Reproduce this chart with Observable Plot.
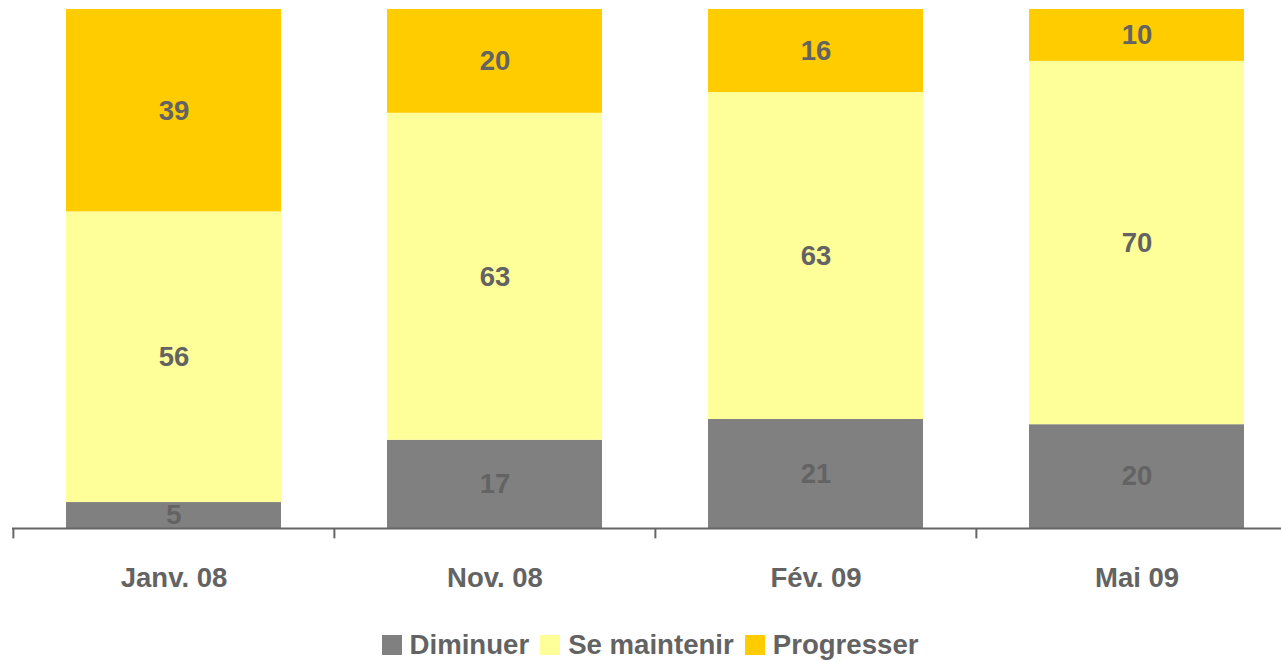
<!DOCTYPE html>
<html><head><meta charset="utf-8">
<script src="https://cdn.jsdelivr.net/npm/d3@7"></script>
<script src="https://cdn.jsdelivr.net/npm/@observablehq/plot@0.6"></script>
<style>
body{margin:0;background:#fff;font-family:"Liberation Sans",Arial,sans-serif;}
#chart svg{display:block;}
.legend{height:60px;display:flex;align-items:center;justify-content:center;padding-left:30px;box-sizing:border-box;width:1281px;font-weight:bold;font-size:27.6px;color:#636363;}
.legend .item{display:flex;align-items:center;margin-right:11px;}
.legend .sw{width:20px;height:20px;margin-right:8px;}
</style></head><body>
<div id="chart"></div>
<script>
const periods = ["Janv. 08", "Nov. 08", "Fév. 09", "Mai 09"];
const seriesNames = ["Diminuer", "Se maintenir", "Progresser"];
const diminuer = [5, 17, 21, 20];
const maintenir = [56, 63, 63, 70];
const progresser = [39, 20, 16, 10];
const colors = ["#808080", "#FFFF99", "#FFCC00"];

const seriesValues = [diminuer, maintenir, progresser];
const rows = [];
periods.forEach((p, i) => {
  seriesNames.forEach((s, j) => rows.push({period: p, series: s, value: seriesValues[j][i]}));
});

const W = 1281, H = 615;
const x0 = 12, x1 = 1297;
const step = (x1 - x0) / periods.length;
const textColor = "#636363";

const plot = Plot.plot({
  width: W, height: H,
  marginLeft: x0, marginRight: 0, marginTop: 9, marginBottom: H - 528,
  style: {fontFamily: "'Liberation Sans', Arial, sans-serif", background: "#fff", overflow: "hidden"},
  x: {domain: periods, range: [x0, x1], paddingInner: 0.331, paddingOuter: 0.1655, label: null},
  y: {domain: [0, 100], range: [528, 9], axis: null},
  color: {domain: seriesNames, range: colors},
  marks: [
    Plot.barY(rows, {x: "period", y: "value", z: "series", fill: "series", order: seriesNames}),
    Plot.text(rows, Plot.stackY({x: "period", y: "value", z: "series", order: seriesNames, text: d => String(d.value),
      fill: textColor, fontSize: 27.5, fontWeight: "bold"})),
    Plot.ruleY([0], {stroke: "#666", strokeWidth: 2}),
    Plot.ruleX(periods, {x: d => d, y1: 0, y2: -2, dx: -step / 2, stroke: "#666", strokeWidth: 2}),
    Plot.axisX({tickSize: 0, tickPadding: 39, fontSize: 27.5, fontWeight: "bold", fill: textColor, label: null})
  ]
});
document.getElementById("chart").appendChild(plot);

const legend = document.createElement("div");
legend.className = "legend";
seriesNames.forEach((s, j) => {
  const item = document.createElement("div");
  item.className = "item";
  const sw = document.createElement("span");
  sw.className = "sw";
  sw.style.background = colors[j];
  const lab = document.createElement("span");
  lab.textContent = s;
  item.appendChild(sw); item.appendChild(lab);
  legend.appendChild(item);
});
document.body.appendChild(legend);
</script>
</body></html>
